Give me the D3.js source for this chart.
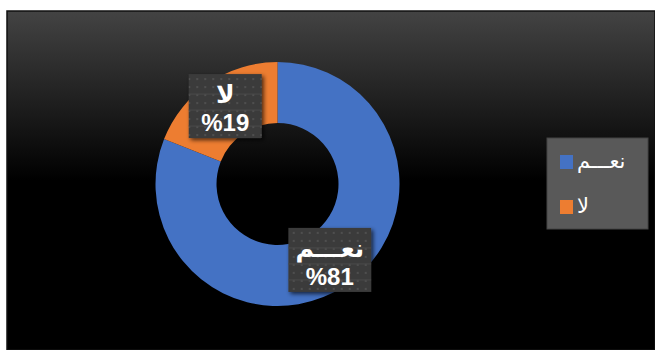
<!DOCTYPE html>
<html>
<head>
<meta charset="utf-8">
<script src="https://cdn.jsdelivr.net/npm/d3@7"></script>
<style>
  body { margin: 0; background: #fff; }
  svg { display: block; }
</style>
</head>
<body>
<div id="chart"></div>
<script>
const categories = ["نعـــم", "لا"];
const values = [81, 19];
const colors = ["#4472C4", "#ED7D31"];

(() => {
  const width = 655,
    height = 350;
  const frame = { left: 7, top: 11, right: 655, bottom: 350 };
  const cx = 277.5,
    cy = 184,
    outerR = 122,
    innerR = 61;

  const svg = d3
    .select("#chart")
    .append("svg")
    .attr("width", width)
    .attr("height", height);

  const defs = svg.append("defs");

  const grad = defs
    .append("linearGradient")
    .attr("id", "bg")
    .attr("x1", 0)
    .attr("y1", 0)
    .attr("x2", 0)
    .attr("y2", 1);
  grad.append("stop").attr("offset", "0").attr("stop-color", "#434343");
  grad.append("stop").attr("offset", "0.5").attr("stop-color", "#000");
  grad.append("stop").attr("offset", "1").attr("stop-color", "#000");

  // dotted fill of the data label boxes
  const pat = defs
    .append("pattern")
    .attr("id", "dots")
    .attr("patternUnits", "userSpaceOnUse")
    .attr("width", 8)
    .attr("height", 8);
  pat.append("rect").attr("width", 8).attr("height", 8).attr("fill", "#3b3b3b");
  pat
    .append("circle")
    .attr("cx", 4)
    .attr("cy", 4)
    .attr("r", 1)
    .attr("fill", "#555");

  const shadow = defs
    .append("filter")
    .attr("id", "shadow")
    .attr("x", "-20%")
    .attr("y", "-20%")
    .attr("width", "150%")
    .attr("height", "150%");
  shadow
    .append("feDropShadow")
    .attr("dx", 2)
    .attr("dy", 2)
    .attr("stdDeviation", 2)
    .attr("flood-color", "#000")
    .attr("flood-opacity", 0.7);

  // chart area
  svg
    .append("rect")
    .attr("x", frame.left)
    .attr("y", frame.top)
    .attr("width", frame.right - frame.left)
    .attr("height", frame.bottom - frame.top)
    .attr("fill", "url(#bg)")
    .attr("stroke", "#111")
    .attr("stroke-width", 1.5);

  const data = categories.map((c, i) => ({ name: c, value: values[i], color: colors[i] }));

  const pie = d3
    .pie()
    .sort(null)
    .value((d) => d.value);

  const arc = d3.arc().innerRadius(innerR).outerRadius(outerR);
  const labelArc = d3.arc().innerRadius(93).outerRadius(93);

  const g = svg.append("g").attr("transform", `translate(${cx},${cy})`);

  g.selectAll("path")
    .data(pie(data))
    .enter()
    .append("path")
    .attr("d", arc)
    .attr("fill", (d) => d.data.color);

  // data labels
  const labels = g
    .selectAll(".label")
    .data(pie(data))
    .enter()
    .append("g")
    .attr("class", "label")
    .attr("transform", (d) => `translate(${labelArc.centroid(d)})`);

  labels.each(function (d) {
    const lab = d3.select(this);
    const box = lab.append("rect").attr("fill", "url(#dots)").attr("filter", "url(#shadow)");
    const t1 = lab
      .append("text")
      .attr("text-anchor", "middle")
      .attr("y", -4)
      .attr("fill", "#fff")
      .style("font-family", "'DejaVu Sans', sans-serif")
      .style("font-weight", "bold")
      .style("font-size", "25px")
      .text(d.data.name);
    const t2 = lab
      .append("text")
      .attr("text-anchor", "middle")
      .attr("y", 24)
      .attr("fill", "#fff")
      .style("font-family", "'Liberation Sans', Arial, sans-serif")
      .style("font-weight", "bold")
      .style("font-size", "24px")
      .attr("direction", "ltr")
      .text("%" + d.data.value);
    const w = Math.max(t1.node().getBBox().width + 14, t2.node().getBBox().width + 14, 73);
    const h = 64;
    box
      .attr("x", -w / 2)
      .attr("y", -33)
      .attr("width", w)
      .attr("height", h);
    // faint horizontal rules of the box texture
    [-13, 3, 19].forEach((yy) => {
      lab
        .insert("line", "text")
        .attr("x1", -w / 2)
        .attr("x2", w / 2)
        .attr("y1", yy)
        .attr("y2", yy)
        .attr("stroke", "#4a4a4a")
        .attr("stroke-width", 1);
    });
  });

  // legend
  const legend = svg.append("g").attr("transform", "translate(547,138)");
  legend
    .append("rect")
    .attr("width", 101)
    .attr("height", 91)
    .attr("fill", "#595959")
    .attr("stroke", "#444")
    .attr("stroke-width", 1);

  const items = legend
    .selectAll(".item")
    .data(data)
    .enter()
    .append("g")
    .attr("class", "item")
    .attr("transform", (d, i) => `translate(13,${17 + i * 45})`);

  items
    .append("rect")
    .attr("width", 13)
    .attr("height", 14)
    .attr("fill", (d) => d.color);

  items
    .append("text")
    .attr("x", 17)
    .attr("y", 13)
    .attr("fill", "#fff")
    .attr("text-anchor", "start")
    .style("font-family", "'DejaVu Sans', sans-serif")
    .style("font-size", "21px")
    .text((d) => d.name);
})();
</script>
</body>
</html>
